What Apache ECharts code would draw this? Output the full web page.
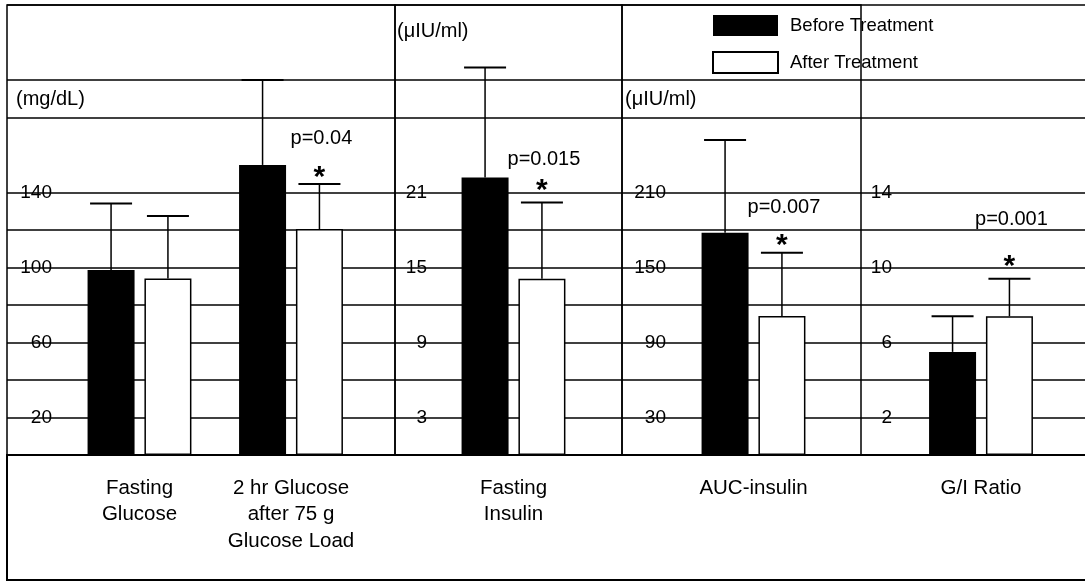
<!DOCTYPE html>
<html>
<head>
<meta charset="utf-8">
<script src="https://cdn.jsdelivr.net/npm/echarts@6/dist/echarts.min.js"></script>
<style>
html, body { margin: 0; padding: 0; background: #fff; }
#chart { width: 1085px; height: 582px; }
</style>
</head>
<body>
<div id="chart"></div>
<script>
// 数据（均值 + 标准差）
var seriesNames = ['Before Treatment', 'After Treatment'];

var glucoseCats = ['Fasting\nGlucose', '2 hr Glucose\nafter 75 g\nGlucose Load'];
var glucoseBefore = [98.7, 154.7];
var glucoseBeforeSD = [35.5, 45.3];
var glucoseAfter = [94.2, 120.5];
var glucoseAfterSD = [33.3, 24.0];
var glucoseP = ['', 'p=0.04'];
var glucoseTicks = [20, 60, 100, 140];

var insulinCats = ['Fasting\nInsulin'];
var insulinBefore = [22.2];
var insulinBeforeSD = [8.8];
var insulinAfter = [14.1];
var insulinAfterSD = [6.1];
var insulinP = ['p=0.015'];
var insulinTicks = [3, 9, 15, 21];

var aucCats = ['AUC-insulin'];
var aucBefore = [177.8];
var aucBeforeSD = [74.2];
var aucAfter = [111.2];
var aucAfterSD = [50.6];
var aucP = ['p=0.007'];
var aucTicks = [30, 90, 150, 210];

var giCats = ['G/I Ratio'];
var giBefore = [5.5];
var giBeforeSD = [1.9];
var giAfter = [7.4];
var giAfterSD = [2.0];
var giP = ['p=0.001'];
var giTicks = [2, 6, 10, 14];

var FONT = '"Liberation Sans", Arial, sans-serif';
var BAR_W = 47;
var GAP = 0.21;
var HALF_STEP = BAR_W * (1 + GAP) / 2;
var CAP = 42;

// 每个面板：数据 + 布局
var panels = [
  { cats: glucoseCats, before: glucoseBefore, beforeSD: glucoseBeforeSD, after: glucoseAfter, afterSD: glucoseAfterSD,
    p: glucoseP, ticks: glucoseTicks, step: 20, unit: '(mg/dL)',
    frame: [7, 395], bars: [63.75, 366.75], labelMargin: -45, unitGap: -94, unitPad: 9, pLift: 46, starLift: 6, border: true },
  { cats: insulinCats, before: insulinBefore, beforeSD: insulinBeforeSD, after: insulinAfter, afterSD: insulinAfterSD,
    p: insulinP, ticks: insulinTicks, step: 3, unit: '(\u03bcIU/ml)',
    frame: [395, 622], bars: [440, 587], labelMargin: -32, unitGap: -26, unitPad: 2, pLift: 43, starLift: 12, border: true },
  { cats: aucCats, before: aucBefore, beforeSD: aucBeforeSD, after: aucAfter, afterSD: aucAfterSD,
    p: aucP, ticks: aucTicks, step: 30, unit: '(\u03bcIU/ml)',
    frame: [622, 861], bars: [680, 827], labelMargin: -44, unitGap: -94, unitPad: 3, pLift: 45, starLift: 7, border: true },
  { cats: giCats, before: giBefore, beforeSD: giBeforeSD, after: giAfter, afterSD: giAfterSD,
    p: giP, ticks: giTicks, step: 2, unit: '',
    frame: [861, 1085], bars: [907, 1055], labelMargin: -31, unitGap: 0, unitPad: 0, pLift: 59, starLift: 12, border: false }
];

// 原图里 160 和 220 那两条线没有
var lineColors = [];
for (var c = 0; c < 13; c++) lineColors.push(c === 8 || c === 11 ? 'rgba(0,0,0,0)' : '#000');

function errorBar(pn, side) {
  return function (params, api) {
    var i = api.value(0);
    var mean = api.value(1);
    var top = api.coord([i, mean]);
    var up = api.coord([i, mean + api.value(2)]);
    var x = top[0] + side * HALF_STEP;
    var kids = [
      { type: 'line', shape: { x1: x, y1: top[1], x2: x, y2: up[1] }, style: { stroke: '#000', lineWidth: 1.5 } },
      { type: 'line', shape: { x1: x - CAP / 2, y1: up[1], x2: x + CAP / 2, y2: up[1] }, style: { stroke: '#000', lineWidth: 2 } }
    ];
    var p = side > 0 ? pn.p[params.dataIndex] : '';
    if (p) {
      kids.push({ type: 'text', style: { text: p, x: x + 2, y: up[1] - pn.pLift, fill: '#000', font: '20px ' + FONT, align: 'center', verticalAlign: 'middle' } });
      kids.push({ type: 'text', style: { text: '*', x: x, y: up[1] - pn.starLift, fill: '#000', font: 'bold 30px ' + FONT, align: 'center', verticalAlign: 'middle' } });
    }
    return { type: 'group', children: kids };
  };
}

var grids = [], xAxes = [], yAxes = [], series = [];

panels.forEach(function (pn, k) {
  grids.push({ left: pn.frame[0], width: pn.frame[1] - pn.frame[0], top: 5, bottom: 127,
    show: pn.border, borderColor: '#000', borderWidth: 1.5, backgroundColor: 'transparent' });
  xAxes.push({ gridIndex: k, type: 'value', min: 0, max: 1, show: false });
  yAxes.push({
    gridIndex: k, type: 'value', min: 0, max: pn.step * 12, interval: pn.step,
    name: pn.unit, nameLocation: 'end', nameGap: pn.unitGap,
    nameTextStyle: { align: 'left', verticalAlign: 'middle', padding: [0, 0, 0, pn.unitPad], fontSize: 20, color: '#000', fontFamily: FONT },
    axisLine: { show: false }, axisTick: { show: false },
    axisLabel: {
      margin: pn.labelMargin, fontSize: 19, color: '#000', fontFamily: FONT,
      formatter: function (v) { return pn.ticks.indexOf(v) >= 0 ? String(v) : ''; }
    },
    splitLine: { show: true, lineStyle: { color: lineColors, width: 1.5 } }
  });
});

panels.forEach(function (pn, k) {
  var g = 4 + k;
  grids.push({ left: pn.bars[0], width: pn.bars[1] - pn.bars[0], top: 5, bottom: 127 });
  xAxes.push({
    gridIndex: g, type: 'category', data: pn.cats,
    axisLine: { show: false }, axisTick: { show: false },
    axisLabel: { interval: 0, margin: 20, fontSize: 20.5, lineHeight: 26.5, color: '#000', fontFamily: FONT }
  });
  yAxes.push({ gridIndex: g, type: 'value', min: 0, max: pn.step * 12, show: false });

  series.push({
    name: seriesNames[0], type: 'bar', xAxisIndex: g, yAxisIndex: g,
    barWidth: BAR_W, barGap: (GAP * 100) + '%',
    itemStyle: { color: '#000' }, data: pn.before
  });
  series.push({
    name: seriesNames[1], type: 'bar', xAxisIndex: g, yAxisIndex: g,
    barWidth: BAR_W, barGap: (GAP * 100) + '%',
    itemStyle: { color: '#fff', borderColor: '#000', borderWidth: 1.5 }, data: pn.after
  });
  series.push({
    type: 'custom', xAxisIndex: g, yAxisIndex: g, z: 3, silent: true,
    renderItem: errorBar(pn, -1),
    encode: { x: 0, y: 1 },
    data: pn.before.map(function (v, i) { return [i, v, pn.beforeSD[i]]; })
  });
  series.push({
    type: 'custom', xAxisIndex: g, yAxisIndex: g, z: 3, silent: true,
    renderItem: errorBar(pn, 1),
    encode: { x: 0, y: 1 },
    data: pn.after.map(function (v, i) { return [i, v, pn.afterSD[i]]; })
  });
});

var chart = echarts.init(document.getElementById('chart'));
chart.setOption({
  animation: false,
  backgroundColor: '#fff',
  textStyle: { fontFamily: FONT, color: '#000' },
  legend: {
    data: seriesNames, orient: 'vertical', left: 712, top: 15, padding: 0,
    itemWidth: 65, itemHeight: 21, itemGap: 15, icon: 'rect',
    textStyle: { fontSize: 18.5, color: '#000', fontFamily: FONT, padding: [0, 0, 0, 7] }
  },
  grid: grids,
  xAxis: xAxes,
  yAxis: yAxes,
  series: series,
  graphic: [{
    type: 'rect', z: 10, silent: true,
    shape: { x: 7, y: 455, width: 1100, height: 125 },
    style: { fill: 'none', stroke: '#000', lineWidth: 2 }
  }]
});
</script>
</body>
</html>
